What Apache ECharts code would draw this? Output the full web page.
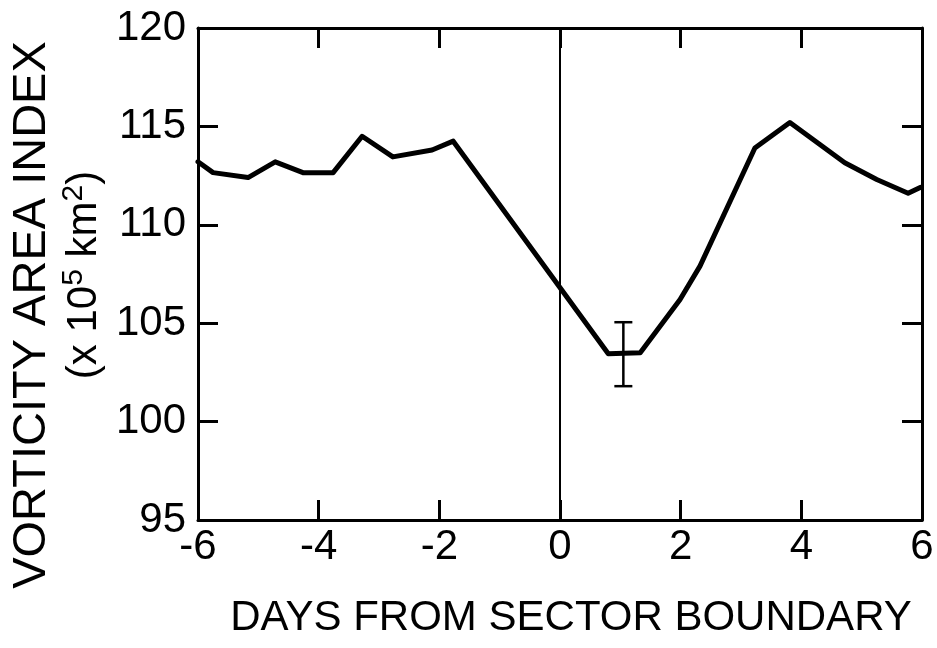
<!DOCTYPE html>
<html>
<head>
<meta charset="utf-8">
<script src="https://cdn.jsdelivr.net/npm/echarts@6/dist/echarts.min.js"></script>
<style>html,body{margin:0;padding:0;background:#fff}#c{width:937px;height:648px}</style>
</head>
<body>
<div id="c"></div>
<script>
const days = [-6, -5.75, -5.17, -4.72, -4.26, -3.76, -3.28, -2.77, -2.12, -1.77, 0.8, 1.33, 1.99, 2.32, 3.23, 3.81, 4.72, 5.25, 5.77, 5.97];
const vorticity = [113.2, 112.65, 112.4, 113.2, 112.65, 112.65, 114.5, 113.45, 113.8, 114.25, 103.45, 103.5, 106.2, 107.9, 113.9, 115.2, 113.15, 112.3, 111.6, 111.9];
const errorBar = [[1.05, 101.8, 105.05]];
const xTicks = [-6, -4, -2, 0, 2, 4, 6];
const yTicks = [95, 100, 105, 110, 115, 120];
const xTitle = 'DAYS FROM SECTOR BOUNDARY';
const yTitle1 = 'VORTICITY AREA INDEX';
const yTitle2 = '(x 10{sup|5} km{sup|2})';

const FONT = '"Liberation Sans", Arial, sans-serif';
const chart = echarts.init(document.getElementById('c'));
const axisLine = {show: true, onZero: false, lineStyle: {color: '#000', width: 3}};
const tick = {show: true, inside: true, length: 20, lineStyle: {color: '#000', width: 3}};
chart.setOption({
  animation: false,
  backgroundColor: '#fff',
  grid: {left: 198, right: 15, top: 28, bottom: 128, show: false},
  xAxis: [{
    type: 'value', min: xTicks[0], max: xTicks[xTicks.length - 1], interval: 2, position: 'bottom',
    axisLine: axisLine, axisTick: tick, splitLine: {show: false},
    axisLabel: {color: '#000', fontSize: 42, fontFamily: FONT, margin: 6,
      formatter: v => xTicks.includes(v) ? String(v) : ''}
  }, {
    type: 'value', min: xTicks[0], max: xTicks[xTicks.length - 1], interval: 2, position: 'top',
    axisLine: axisLine, axisTick: tick, splitLine: {show: false}, axisLabel: {show: false}
  }],
  yAxis: [{
    type: 'value', min: yTicks[0], max: yTicks[yTicks.length - 1], interval: 5, position: 'left',
    axisLine: axisLine, axisTick: tick, splitLine: {show: false},
    axisLabel: {color: '#000', fontSize: 42, fontFamily: FONT, margin: 12,
      formatter: v => yTicks.includes(v) ? String(v) : ''}
  }, {
    type: 'value', min: yTicks[0], max: yTicks[yTicks.length - 1], interval: 5, position: 'right',
    axisLine: axisLine, axisTick: tick, splitLine: {show: false}, axisLabel: {show: false}
  }],
  series: [{
    type: 'line',
    data: days.map((d, i) => [d, vorticity[i]]),
    showSymbol: false, symbol: 'none',
    lineStyle: {color: '#000', width: 5, join: 'round', cap: 'round'},
    markLine: {
      silent: true, symbol: 'none', label: {show: false},
      lineStyle: {color: '#000', width: 2, type: 'solid'},
      data: [{xAxis: 0}]
    },
    z: 3
  }, {
    type: 'custom',
    data: errorBar,
    renderItem: function (params, api) {
      const x = api.value(0);
      const lo = api.coord([x, api.value(1)]);
      const hi = api.coord([x, api.value(2)]);
      const w = 9;
      const st = {stroke: '#000', lineWidth: 2.5};
      return {type: 'group', children: [
        {type: 'line', shape: {x1: lo[0], y1: lo[1], x2: hi[0], y2: hi[1]}, style: st},
        {type: 'line', shape: {x1: lo[0] - w, y1: lo[1], x2: lo[0] + w, y2: lo[1]}, style: st},
        {type: 'line', shape: {x1: hi[0] - w, y1: hi[1], x2: hi[0] + w, y2: hi[1]}, style: st}
      ]};
    },
    z: 4
  }],
  graphic: [{
    type: 'text', x: 571, y: 618,
    style: {text: xTitle, fill: '#000', font: '42px ' + FONT, textAlign: 'center', textVerticalAlign: 'middle'}
  }, {
    type: 'text', x: 32, y: 315, rotation: Math.PI / 2,
    style: {text: yTitle1, fill: '#000', font: '47px ' + FONT, textAlign: 'center', textVerticalAlign: 'middle'}
  }, {
    type: 'text', x: 84, y: 275, rotation: Math.PI / 2,
    style: {text: yTitle2, fill: '#000', font: '42px ' + FONT, textAlign: 'center', textVerticalAlign: 'middle',
      rich: {sup: {fontSize: 30, fontFamily: FONT, verticalAlign: 'bottom', padding: [0, 0, 20, 0], fill: '#000'}}}
  }]
});
</script>
</body>
</html>
